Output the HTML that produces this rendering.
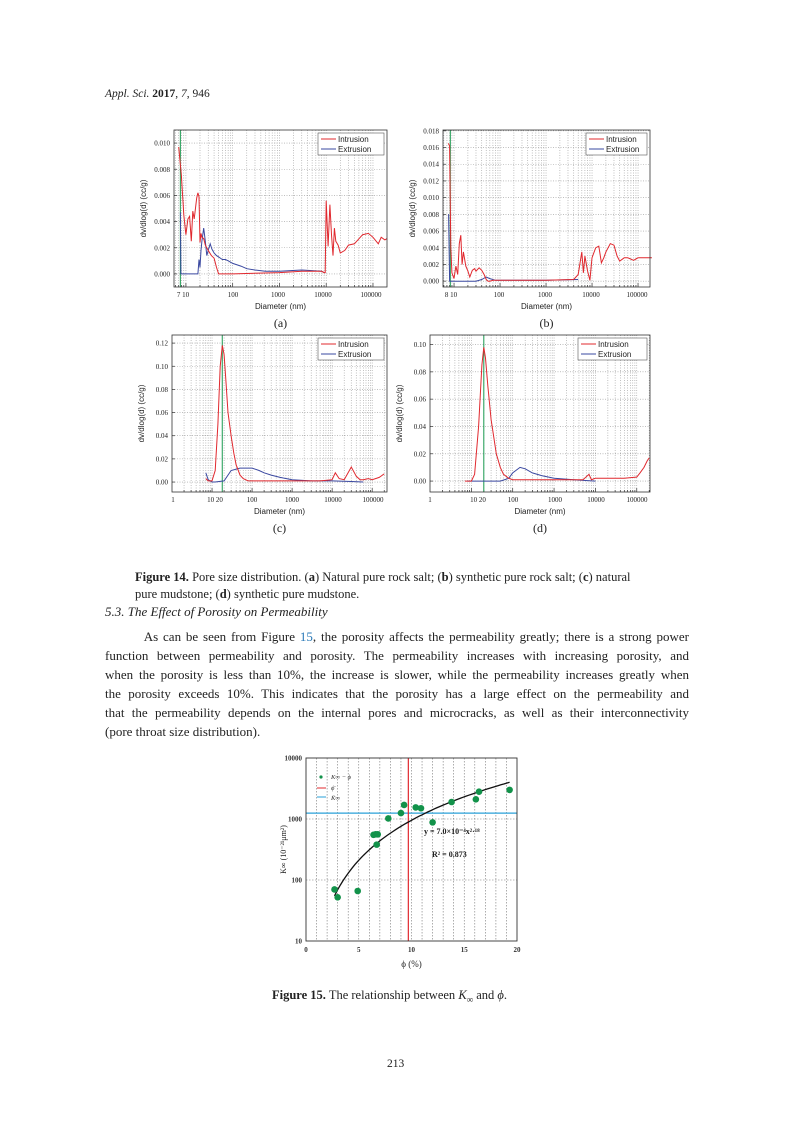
<!DOCTYPE html>
<html><head><meta charset="utf-8">
<style>
body{margin:0;background:#fff;}
#page{position:relative;width:790px;height:1134px;overflow:hidden;background:#fff;font-family:"Liberation Serif",serif;color:#222;}
.t{position:absolute;white-space:nowrap;}
.para{position:absolute;left:105px;width:584px;font-size:13px;line-height:19px;}
.para div{text-align:justify;text-align-last:justify;white-space:nowrap;}
.para div.last{text-align-last:left;}
</style></head>
<body>
<div id="page">
<div class="t" style="left:105px;top:88px;font-size:11.5px;"><i>Appl. Sci.</i> <b>2017</b>, <i>7</i>, 946</div>
<svg id="figs" width="790" height="540" style="position:absolute;left:0;top:0" font-family="Liberation Sans, sans-serif"></svg>
<svg id="fig15" width="790" height="1134" style="position:absolute;left:0;top:0" font-family="Liberation Serif, serif"></svg>
<div class="t" style="left:135px;top:569px;font-size:12.5px;line-height:17px;"><b>Figure 14.</b> Pore size distribution. (<b>a</b>) Natural pure rock salt; (<b>b</b>) synthetic pure rock salt; (<b>c</b>) natural<br>pure mudstone; (<b>d</b>) synthetic pure mudstone.</div>
<div class="t" style="left:105px;top:604px;font-size:13px;"><i>5.3. The Effect of Porosity on Permeability</i></div>
<div class="para" style="top:627px;">
<div>&nbsp;&nbsp;&nbsp;&nbsp;&nbsp;&nbsp;&nbsp;&nbsp;As can be seen from Figure <span style="color:#2a7ab8">15</span>, the porosity affects the permeability greatly; there is a strong power</div>
<div>function between permeability and porosity. The permeability increases with increasing porosity, and</div>
<div>when the porosity is less than 10%, the increase is slower, while the permeability increases greatly when</div>
<div>the porosity exceeds 10%. This indicates that the porosity has a large effect on the permeability and</div>
<div>that the permeability depends on the internal pores and microcracks, as well as their interconnectivity</div>
<div class="last">(pore throat size distribution).</div>
</div>
<div class="t" style="left:272px;top:988px;font-size:12.5px;"><b>Figure 15.</b> The relationship between <i>K</i><sub style="font-size:9px">∞</sub> and <i>ϕ</i>.</div>
<div class="t" style="left:387px;top:1058px;font-size:11.5px;">213</div>
</div>
<script>
// ---- Panel (a)
const aIntD=[7,8,9,10,11,12,13,14,15,17,18,19,20,21,22,24,26,30,35,40,45,50,100,1000,3000,8000,9000,9500,10000,11000,12000,13000,14000,15000,16000,18000,20000,25000,30000,40000,60000,80000,100000,130000,150000,180000,200000];
const aIntV=[.0097,.0075,.0045,.003,.0042,.0044,.0025,.0048,.0042,.0058,.0062,.0059,.0024,.0031,.0028,.0027,.0022,.0018,.0014,.0012,.0005,0,0,.0001,.0002,.0002,.0001,.0001,.0056,.0021,.0053,.0030,.0014,.0035,.0025,.0022,.0016,.0018,.0022,.0023,.0030,.0031,.0028,.0023,.0028,.0026,.0027];
const aExtD=[7.6,7.8,8,18,19,20,21,22,24,26,28,30,33,36,40,45,50,60,70,80,100,150,200,300,500,1000,3000,8000,9000];
const aExtV=[.0047,0,0,0,.0011,.0005,.0018,.0025,.0035,.0025,.0014,.0018,.0023,.0019,.0016,.0014,.0013,.0011,.0011,.001,.0008,.0006,.0004,.0003,.0002,.0002,.0003,.0002,.0001];
const aYTicks=[0,.002,.004,.006,.008,.010];
const aYLabels=["0.000","0.002","0.004","0.006","0.008","0.010"];
// ---- Panel (b)
const bIntD=[7.5,8,8.5,9,10,11,12,13,14,15,16,18,20,22,25,28,30,35,40,45,50,55,60,70,100,1000,4000,5000,6000,6500,7000,8000,9000,10000,12000,14000,16000,18000,20000,25000,30000,35000,40000,50000,60000,80000,100000,150000,200000];
const bIntV=[.0165,.0162,.004,.001,.0003,.0018,.0008,.0045,.0055,.002,.0035,.0018,.0012,.0005,.0013,.0015,.0012,.0016,.0013,.0008,.0002,0,0,.0001,.0001,.0001,.0002,.0008,.0035,.0010,.0030,.0012,.0001,.0028,.0040,.0042,.0022,.0028,.0035,.0045,.0043,.0030,.0024,.0028,.0028,.0025,.0028,.0028,.0028];
const bExtD=[7.6,8,10,30,40,50,60,80,100,500,1000,5000];
const bExtV=[.008,0,0,0,.0002,.0005,.0003,.0001,.0001,.0001,.0001,.0002];
const bYTicks=[0,.002,.004,.006,.008,.010,.012,.014,.016,.018];
const bYLabels=["0.000","0.002","0.004","0.006","0.008","0.010","0.012","0.014","0.016","0.018"];
// ---- Panel (c)
const cIntD=[7,8,10,12,14,16,18,20,22,25,30,35,40,50,60,80,100,200,500,1000,5000,10000,12000,15000,20000,25000,30000,40000,50000,60000,80000,100000,150000,200000];
const cIntV=[.003,.001,.001,.01,.05,.1,.118,.11,.09,.06,.04,.025,.015,.006,.003,.001,.001,.001,.001,.001,.001,.002,.008,.003,.002,.008,.013,.005,.002,.002,.003,.002,.004,.007];
const cExtD=[7,8,10,12,20,30,50,70,100,150,200,300,500,1000,3000,10000,30000,60000];
const cExtV=[.008,.002,0,0,.001,.01,.012,.012,.012,.01,.008,.006,.004,.002,.001,.001,.0005,0];
const cYTicks=[0,.02,.04,.06,.08,.10,.12];
const cYLabels=["0.00","0.02","0.04","0.06","0.08","0.10","0.12"];
// ---- Panel (d)
const dIntD=[7,10,12,15,18,20,22,25,30,40,50,60,80,100,200,1000,5000,7000,8000,10000,20000,50000,100000,120000,150000,180000,200000];
const dIntV=[0,0,.005,.04,.085,.098,.09,.07,.045,.02,.01,.005,.002,.001,.001,.001,.001,.005,.001,.002,.002,.002,.003,.006,.01,.015,.017];
const dExtD=[8,50,80,100,150,200,300,500,1000,3000,10000];
const dExtV=[0,0,.002,.006,.01,.009,.006,.004,.002,.001,0];
const dYTicks=[0,.02,.04,.06,.08,.10];
const dYLabels=["0.00","0.02","0.04","0.06","0.08","0.10"];
// ---- Figure 15
const phiVals=[2.7,3.0,4.9,6.4,6.6,6.7,6.8,7.8,9.0,9.3,10.4,10.9,12.0,13.8,16.1,16.4,19.3];
const kVals=[70,52,66,550,560,380,560,1020,1250,1700,1550,1500,880,1900,2100,2800,3000];
const phiMean=9.7, kMean=1250;
const fitA=6.3, fitB=2.18;
const f15XTicks=[0,5,10,15,20];
const f15YTicks=[10,100,1000,10000];

const NS="http://www.w3.org/2000/svg";
function mk(parent,tag,attrs,txt){const e=document.createElementNS(NS,tag);for(const k in attrs)e.setAttribute(k,attrs[k]);if(txt!==undefined)e.textContent=txt;parent.appendChild(e);return e;}

function panel(svg,c){
  const L=c.x0,R=c.x1,T=c.y0,B=c.y1;
  const xs=d=>L+(Math.log10(d)-c.lmin)/(c.lmax-c.lmin)*(R-L);
  const ys=v=>B-(v-c.vmin)/(c.vmax-c.vmin)*(B-T);
  const g=mk(svg,'g',{});
  
  
  for(let e=Math.floor(c.lmin);e<=Math.ceil(c.lmax);e++)for(let m=1;m<10;m++){const d=m*Math.pow(10,e);const l=Math.log10(d);if(l<=c.lmin||l>=c.lmax)continue;
    const x=xs(d);mk(g,'line',{x1:x,x2:x,y1:T,y2:B,stroke:'#999','stroke-width':0.6,'stroke-dasharray':'1,1.5'});
    mk(g,'line',{x1:x,x2:x,y1:B,y2:B-(m==1?4:2),stroke:'#333','stroke-width':0.7});}
  c.yt.forEach((v,i)=>{const y=ys(v);mk(g,'line',{x1:L,x2:R,y1:y,y2:y,stroke:'#999','stroke-width':0.6,'stroke-dasharray':'1,1.5'});
    mk(g,'line',{x1:L,x2:L+3,y1:y,y2:y,stroke:'#333','stroke-width':0.7});
    const t=mk(g,'text',{x:L-4,y:y+2.5,'font-size':7,'text-anchor':'end','font-family':'Liberation Serif, serif',fill:'#222'},c.yl[i]);
    });
  const line=(D,V,col,nm)=>{const p=mk(g,'path',{d:D.map((d,i)=>(i?'L':'M')+xs(d).toFixed(1)+','+ys(V[i]).toFixed(1)).join(''),fill:'none',stroke:col,'stroke-width':1});
    };
  const gx=xs(c.green);const gl=mk(g,'line',{x1:gx,x2:gx,y1:T,y2:B,stroke:'#1a9a50','stroke-width':1});
  
  line(c.ed,c.ev,'#3a48a0','extrusion-line');
  line(c.id_,c.iv,'#e0282e','intrusion-line');
  mk(g,'rect',{x:L,y:T,width:R-L,height:B-T,fill:'none',stroke:'#333','stroke-width':0.8});
  c.xl.forEach(([txt,x])=>{const t=mk(g,'text',{x:x,y:B+10,'font-size':7,'text-anchor':'middle','font-family':'Liberation Serif, serif',fill:'#222'},txt);
    });
  let t=mk(g,'text',{x:(L+R)/2,y:B+22,'font-size':8,'text-anchor':'middle',fill:'#222'},'Diameter (nm)');
  
  t=mk(g,'text',{x:0,y:0,'font-size':8,'text-anchor':'middle',fill:'#222',transform:`translate(${L-28},${(T+B)/2}) rotate(-90)`},'dv/dlog(d)  (cc/g)');
  
  t=mk(g,'text',{x:(L+R)/2,y:B+40,'font-size':12,'text-anchor':'middle','font-family':'Liberation Serif, serif',fill:'#222'},'('+c.id+')');
  
  const lg=mk(g,'g',{});
  mk(lg,'rect',{x:c.lx,y:T+3,width:R-3-c.lx,height:22,fill:'#fff',stroke:'#555','stroke-width':0.6});
  mk(lg,'line',{x1:c.lx+3,x2:c.lx+18,y1:T+9,y2:T+9,stroke:'#e0282e','stroke-width':1});
  mk(lg,'line',{x1:c.lx+3,x2:c.lx+18,y1:T+19,y2:T+19,stroke:'#3a48a0','stroke-width':1});
  mk(lg,'text',{x:c.lx+20,y:T+12,'font-size':8,fill:'#222'},'Intrusion');
  mk(lg,'text',{x:c.lx+20,y:T+22,'font-size':8,fill:'#222'},'Extrusion');
}
const S=document.getElementById('figs');
panel(S,{id:'a',x0:174,x1:387,y0:130,y1:287,lmin:0.745,lmax:5.3,vmin:-0.001,vmax:0.011,yt:aYTicks,yl:aYLabels,id_:aIntD,iv:aIntV,ed:aExtD,ev:aExtV,green:7.6,lx:318,
  xl:[['7 10',183],['100',233],['1000',278],['10000',323],['100000',371]]});
panel(S,{id:'b',x0:443,x1:650,y0:130,y1:287,lmin:0.76,lmax:5.26,vmin:-0.0007,vmax:0.0181,yt:bYTicks,yl:bYLabels,id_:bIntD,iv:bIntV,ed:bExtD,ev:bExtV,green:8.3,lx:586,
  xl:[['8 10',451],['100',499],['1000',545],['10000',591],['100000',637]]});
panel(S,{id:'c',x0:172,x1:387,y0:335,y1:492,lmin:0,lmax:5.37,vmin:-0.0086,vmax:0.127,yt:cYTicks,yl:cYLabels,id_:cIntD,iv:cIntV,ed:cExtD,ev:cExtV,green:18,lx:318,
  xl:[['1',173],['10 20',215],['100',252],['1000',292],['10000',333],['100000',373]]});
panel(S,{id:'d',x0:430,x1:650,y0:335,y1:492,lmin:0,lmax:5.32,vmin:-0.008,vmax:0.107,yt:dYTicks,yl:dYLabels,id_:dIntD,iv:dIntV,ed:dExtD,ev:dExtV,green:20,lx:578,
  xl:[['1',430],['10 20',478],['100',513],['1000',555],['10000',596],['100000',637]]});

(function(){
  const F=document.getElementById('fig15');
  const L=306,R=517,T=758,B=941;
  const xs=v=>L+v/20*(R-L);
  const ys=v=>B-(Math.log10(v)-1)/3*(B-T);
  for(let v=1;v<20;v++){if(v%5==0)continue;const x=xs(v);mk(F,'line',{x1:x,x2:x,y1:T,y2:B,stroke:'#777','stroke-width':0.6,'stroke-dasharray':'1.5,1.5'});}
  f15XTicks.forEach(v=>{const x=xs(v);if(v>0&&v<20)mk(F,'line',{x1:x,x2:x,y1:T,y2:B,stroke:'#777','stroke-width':0.6,'stroke-dasharray':'1.5,1.5'});
    const t=mk(F,'text',{x:x,y:B+11,'font-size':7,'text-anchor':'middle','font-weight':'bold',fill:'#333'},String(v));
    });
  f15YTicks.forEach(v=>{const y=ys(v);if(v>10&&v<10000)mk(F,'line',{x1:L,x2:R,y1:y,y2:y,stroke:'#777','stroke-width':0.6,'stroke-dasharray':'1.5,1.5'});
    const t=mk(F,'text',{x:L-4,y:y+2.5,'font-size':7,'text-anchor':'end','font-weight':'bold',fill:'#333'},String(v));
    });
  let e=mk(F,'line',{x1:L,x2:R,y1:ys(kMean),y2:ys(kMean),stroke:'#2aa0d8','stroke-width':1.2});
  
  e=mk(F,'line',{x1:xs(phiMean),x2:xs(phiMean),y1:T,y2:B,stroke:'#e0282e','stroke-width':1.2});
  
  let d='';for(let i=0;i<=60;i++){const x=phiVals[0]+(phiVals[phiVals.length-1]-phiVals[0])*i/60;d+=(i?'L':'M')+xs(x).toFixed(1)+','+ys(fitA*Math.pow(x,fitB)).toFixed(1);}
  e=mk(F,'path',{d:d,fill:'none',stroke:'#111','stroke-width':1.3});
  
  phiVals.forEach((p,i)=>{const c=mk(F,'circle',{cx:xs(p),cy:ys(kVals[i]),r:3.3,fill:'#12924a'});
    });
  mk(F,'rect',{x:L,y:T,width:R-L,height:B-T,fill:'none',stroke:'#333','stroke-width':0.9});
  const lg=mk(F,'g',{'font-size':6.5,fill:'#333'});
  
  mk(lg,'circle',{cx:321,cy:777,r:1.6,fill:'#12924a'});
  mk(lg,'text',{x:331,y:779,'font-style':'italic'},'K∞ − ϕ');
  mk(lg,'line',{x1:317,x2:326,y1:788,y2:788,stroke:'#e0282e','stroke-width':1});
  mk(lg,'text',{x:331,y:790,'font-style':'italic'},'ϕ̄');
  mk(lg,'line',{x1:317,x2:326,y1:797,y2:797,stroke:'#2aa0d8','stroke-width':1});
  mk(lg,'text',{x:331,y:800,'font-style':'italic'},'K̄∞');
  e=mk(F,'text',{x:424,y:834,'font-size':8,'font-weight':'bold',fill:'#222'},'y = 7.0×10⁻⁴x²·¹⁸');
  
  e=mk(F,'text',{x:432,y:857,'font-size':8,'font-weight':'bold',fill:'#222'},'R² = 0.873');
  
  e=mk(F,'text',{x:(L+R)/2,y:B+26,'font-size':9,'text-anchor':'middle',fill:'#222'},'ϕ (%)');
  
  e=mk(F,'text',{x:0,y:0,'font-size':8,'text-anchor':'middle',fill:'#222',transform:`translate(${L-20},${(T+B)/2}) rotate(-90)`},'K∞ (10⁻²¹μm²)');
  
})();
</script>
</body></html>
